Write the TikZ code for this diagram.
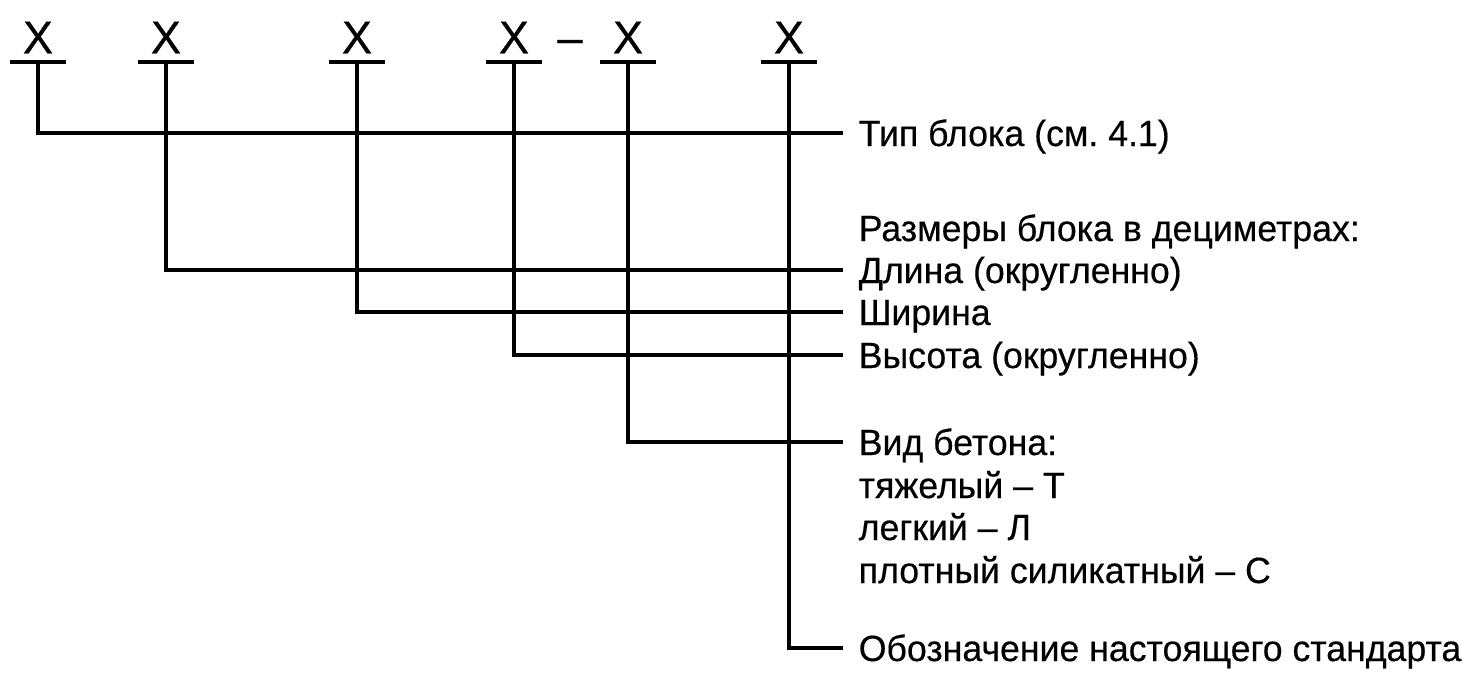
\documentclass[tikz,border=0pt]{standalone}
\usepackage{fontspec}
\setmainfont[FakeStretch=0.98,FakeBold=0.4]{Liberation Sans}
\usetikzlibrary{positioning}
\frenchspacing

\begin{document}
\begin{tikzpicture}[x=0.5pt,y=-0.5pt,line width=1.75pt]
    \tikzstyle{symb}=[anchor=south, inner xsep=0pt, inner ysep=3.5pt, minimum width=26pt, text depth=0pt, font=\fontsize{23}{23}\selectfont]
    \tikzstyle{entry}=[anchor=west, inner xsep=7pt, inner ysep=0pt, text height=13pt, text depth=0pt, font=\fontsize{18.2}{21}\selectfont]
    \useasboundingbox (0,0) rectangle (1473,675);

    \node[symb] (x1) at (38,62)  {X};
    \node[symb] (x2) at (166,62) {X};
    \node[symb] (x3) at (357,62) {X};
    \node[symb] (x4) at (514,62) {X};
    \node[symb] (x5) at (628,62) {X};
    \node[symb] (x6) at (789,62) {X};
    \node[symb] (dash) at (570,62) {--};

    \node[entry] (tip)  at (843,133) {Тип блока (см. 4.1)};
    \node[entry] (razm) at (843,228) {Размеры блока в дециметрах:};
    \node[entry] (dl)   at (843,270) {Длина (округленно)};
    \node[entry] (sh)   at (843,312) {Ширина};
    \node[entry] (vys)  at (843,355) {Высота (округленно)};
    \node[entry] (vid)  at (843,442) {Вид бетона:};
    \node[entry] (tyazh) at (843,485) {тяжелый -- Т};
    \node[entry] (legk) at (843,527) {легкий -- Л};
    \node[entry] (silk) at (843,570) {плотный силикатный -- С};
    \node[entry] (oboz) at (843,648) {Обозначение настоящего стандарта};

    \foreach \n in {x1,x2,x3,x4,x5,x6}
      \draw (\n.south west) -- (\n.south east);

    \draw (x1.south) |- (tip.west);
    \draw (x2.south) |- (dl.west);
    \draw (x3.south) |- (sh.west);
    \draw (x4.south) |- (vys.west);
    \draw (x5.south) |- (vid.west);
    \draw (x6.south) |- (oboz.west);
\end{tikzpicture}
\end{document}
